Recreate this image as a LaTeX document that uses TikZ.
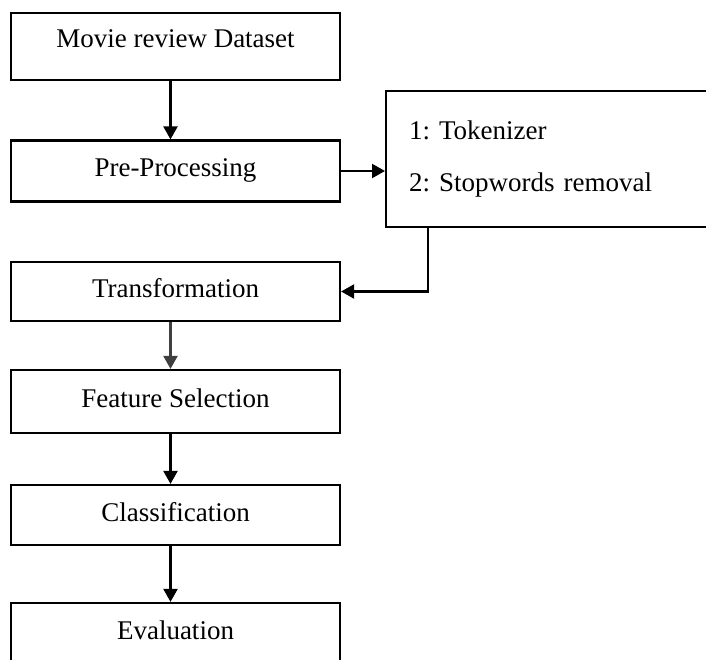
\documentclass[tikz,border=0pt]{standalone}
\usepackage{fontspec}
\setmainfont{Liberation Serif}
\frenchspacing
\usetikzlibrary{arrows.meta,positioning}

\begin{document}
\begin{tikzpicture}[
    x=1pt, y=-1pt,
    >={Triangle[width=14pt,length=13pt]},
    stepbox/.style={rectangle, draw=black, line width=2.2pt, fill=white, minimum width=329pt, minimum height=61pt, font=\fontsize{27}{32}\selectfont, text height=18pt, text depth=6pt},
    listbox/.style={rectangle, draw=black, line width=2.2pt, fill=white, minimum width=327pt, minimum height=136pt, text width=281pt, inner xsep=23pt, align=left, font=\fontsize{27}{32}\selectfont},
    arrow/.style={->, line width=2.2pt, color=black}
]

% page frame
\useasboundingbox (0,0) rectangle (706,660);
\clip (0,0) rectangle (706,660);

% main pipeline
\node[stepbox, minimum height=67pt, text depth=16pt] (dataset) at (175.5,46.5) {Movie review Dataset};
\node[stepbox] (preproc) at (175.5,171) {Pre-Processing};
\node[stepbox, minimum height=59pt] (transform) at (175.5,291.5) {Transformation};
\node[stepbox, minimum height=63pt] (features) at (175.5,401.5) {Feature Selection};
\node[stepbox, minimum height=60pt] (classify) at (175.5,515) {Classification};
\node[stepbox, minimum height=60pt] (evaluate) at (175.5,633) {Evaluation};

% pre-processing steps (box runs off the right edge)
\node[listbox, anchor=north west] (steps) at (385,90) {1: Tokenizer\\[20pt]2: Stopwords removal\\[6pt]};
\coordinate (stepsout) at ([xshift=43pt]steps.south west);

% connectors
\draw[arrow] ([xshift=-5pt]dataset.south) -- ([xshift=-5pt]preproc.north);
\draw[arrow] (preproc.east) -- (preproc.east -| steps.west);
\draw[arrow] (stepsout) |- (transform.east);
\draw[arrow, color=black!75] ([xshift=-5pt]transform.south) -- ([xshift=-5pt]features.north);
\draw[arrow] ([xshift=-5pt]features.south) -- ([xshift=-5pt]classify.north);
\draw[arrow] ([xshift=-5pt]classify.south) -- ([xshift=-5pt]evaluate.north);

\end{tikzpicture}
\end{document}
